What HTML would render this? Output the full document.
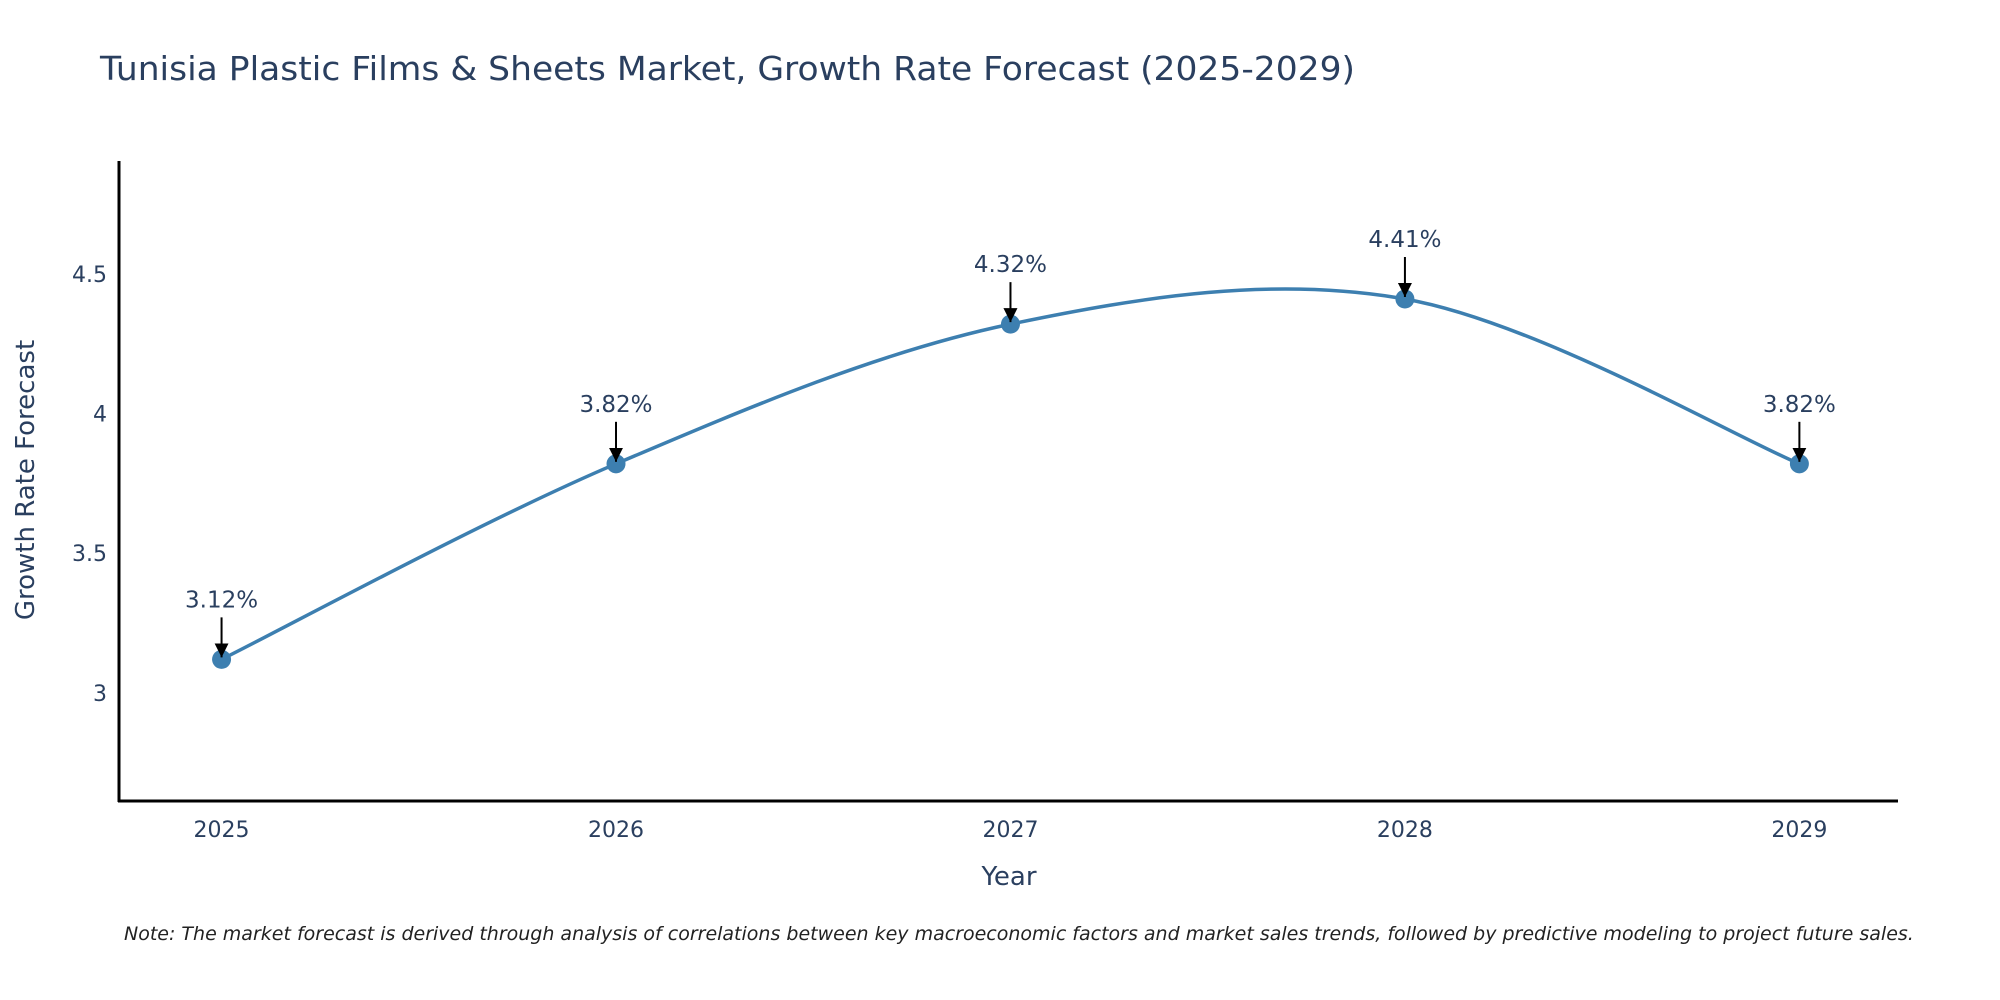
<!DOCTYPE html>
<html><head><meta charset="utf-8"><style>
body{margin:0;background:#fff;}
svg{display:block;font-family:"DejaVu Sans","Liberation Sans",sans-serif;}
</style></head><body>
<svg id="chart" width="2000" height="1000" viewBox="0 0 2000 1000">
<text x="100" y="80" font-size="33" fill="#2a3f5f" textLength="1255" lengthAdjust="spacingAndGlyphs">Tunisia Plastic Films &amp; Sheets Market, Growth Rate Forecast (2025-2029)</text>
<g id="plot"></g>
<text transform="translate(34,480) rotate(-90)" text-anchor="middle" font-size="26" fill="#2a3f5f">Growth Rate Forecast</text>
<text x="1009" y="885" text-anchor="middle" font-size="26" fill="#2a3f5f">Year</text>
<text x="124" y="940" font-size="19" font-style="italic" fill="#222">Note: The market forecast is derived through analysis of correlations between key macroeconomic factors and market sales trends, followed by predictive modeling to project future sales.</text>
</svg>
<script>
const years = [2025, 2026, 2027, 2028, 2029];
const growth = [3.12, 3.82, 4.32, 4.41, 3.82];
const labels = ["3.12%", "3.82%", "4.32%", "4.41%", "3.82%"];
const yTicks = [3, 3.5, 4, 4.5];
const yTickLabels = ["3", "3.5", "4", "4.5"];

const NS = "http://www.w3.org/2000/svg";
const g = document.getElementById('plot');
const X0 = 119, X1 = 1898, Y0 = 801, Y1 = 161;
const yMin = 2.613, yMax = 4.904;
const xMin = 2024.74, xMax = 2029.25;
function xs(v){ return X0 + (v - xMin) / (xMax - xMin) * (X1 - X0); }
function ys(v){ return Y0 - (v - yMin) / (yMax - yMin) * (Y0 - Y1); }
function mk(tag, attrs){ const e = document.createElementNS(NS, tag); for (const k in attrs) e.setAttribute(k, attrs[k]); g.appendChild(e); return e; }

const defs = mk('defs', {});
const m = document.createElementNS(NS, 'marker');
m.setAttribute('id','ah'); m.setAttribute('viewBox','0 0 10 10'); m.setAttribute('refX','10'); m.setAttribute('refY','5');
m.setAttribute('markerWidth','14'); m.setAttribute('markerHeight','14'); m.setAttribute('markerUnits','userSpaceOnUse'); m.setAttribute('orient','auto');
const mp = document.createElementNS(NS,'path'); mp.setAttribute('d','M0,0 L10,5 L0,10 z'); mp.setAttribute('fill','#000');
m.appendChild(mp); defs.appendChild(m);

const ya = mk('line', {x1:X0, y1:Y1, x2:X0, y2:Y0+1, stroke:'#000', 'stroke-width':3});


const xa = mk('line', {x1:X0-1, y1:Y0, x2:X1, y2:Y0, stroke:'#000', 'stroke-width':3});



yTicks.forEach((t, i) => {
  const tx = mk('text', {x:X0-12, y:ys(t)+8, 'text-anchor':'end', 'font-size':22, fill:'#2a3f5f'});
  tx.textContent = yTickLabels[i];
  
  
});
years.forEach(yr => {
  const tx = mk('text', {x:xs(yr), y:Y0+36, 'text-anchor':'middle', 'font-size':22, fill:'#2a3f5f'});
  tx.textContent = String(yr);
  
  
});

const pts = years.map((yr, i) => [xs(yr), ys(growth[i])]);
let d = `M${pts[0][0]},${pts[0][1]}`;
for (let i = 0; i < pts.length - 1; i++) {
  const p0 = pts[Math.max(0, i-1)], p1 = pts[i], p2 = pts[i+1], p3 = pts[Math.min(pts.length-1, i+2)];
  const c1 = [p1[0] + (p2[0]-p0[0])/6, p1[1] + (p2[1]-p0[1])/6];
  const c2 = [p2[0] - (p3[0]-p1[0])/6, p2[1] - (p3[1]-p1[1])/6];
  d += ` C${c1[0]},${c1[1]} ${c2[0]},${c2[1]} ${p2[0]},${p2[1]}`;
}
const line = mk('path', {d:d, fill:'none', stroke:'#3d7fb0', 'stroke-width':3.5});



pts.forEach((p, i) => {
  const c = mk('circle', {cx:p[0], cy:p[1], r:9.5, fill:'#3d7fb0'});
  
  
  const a = mk('line', {x1:p[0], y1:p[1]-42, x2:p[0], y2:p[1]-2, stroke:'#000', 'stroke-width':2, 'marker-end':'url(#ah)'});
  
  
  const t = mk('text', {x:p[0], y:p[1]-52, 'text-anchor':'middle', 'font-size':23, fill:'#2a3f5f'});
  t.textContent = labels[i];
  
  
});
</script>
</body></html>
